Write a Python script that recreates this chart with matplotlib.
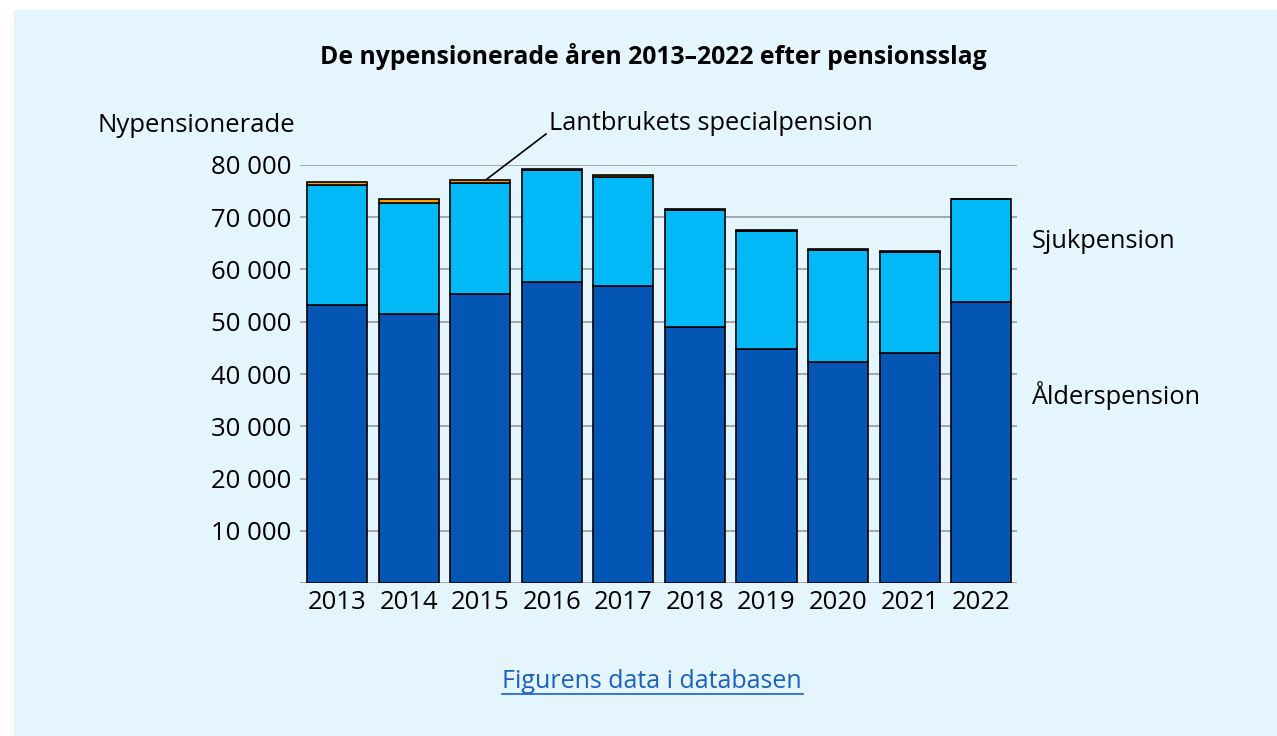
import matplotlib
matplotlib.use("Agg")
import matplotlib.pyplot as plt
from matplotlib.patches import Rectangle
import numpy as np

plt.rcParams['font.family'] = ['Open Sans', 'DejaVu Sans']

years = ["2013", "2014", "2015", "2016", "2017", "2018", "2019", "2020", "2021", "2022"]
alderspension = [53200, 51500, 55300, 57550, 56850, 49000, 44800, 42300, 44000, 53700]
sjukpension = [23000, 21300, 21200, 21500, 20900, 22400, 22600, 21400, 19400, 19850]
lantbruk = [600, 700, 700, 250, 250, 250, 250, 250, 150, 0]
yticks = [10000, 20000, 30000, 40000, 50000, 60000, 70000, 80000]
ytick_labels = ["10 000", "20 000", "30 000", "40 000", "50 000", "60 000", "70 000", "80 000"]

W, H = 1277, 736
fig = plt.figure(figsize=(W / 100, H / 100), dpi=100)
fig.patch.set_facecolor("white")
fig.add_artist(Rectangle((14 / W, 0), 1 - 14 / W, 1 - 10 / H, transform=fig.transFigure,
                         facecolor="#e4f5fd", edgecolor="none", zorder=0))

ax = fig.add_axes([300 / W, 1 - 583 / H, (1017 - 300) / W, (583 - 165) / H])
ax.set_facecolor("none")
x = np.arange(len(years))
c_alder = "#0356b4"
c_sjuk = "#02b9f8"
c_lant = "#f5a300"
bw = 0.84
ax.bar(x, alderspension, width=bw, color=c_alder, edgecolor="black", linewidth=1.2, zorder=3)
ax.bar(x, sjukpension, width=bw, bottom=alderspension, color=c_sjuk, edgecolor="black", linewidth=1.2, zorder=3)
b2 = np.array(alderspension) + np.array(sjukpension)
ax.bar(x, lantbruk, width=bw, bottom=b2, color=c_lant, edgecolor="black", linewidth=1.2, zorder=3, clip_on=False)

ax.set_xlim(-0.52, 9.5)
ax.set_ylim(0, 80000)
ax.set_yticks(yticks)
ax.set_yticklabels(ytick_labels)
ax.set_xticks(x)
ax.set_xticklabels(years)
ax.tick_params(axis="both", length=0, labelsize=18.5, colors="black")
ax.tick_params(axis="y", pad=6)
ax.tick_params(axis="x", pad=5)
for s in ax.spines.values():
    s.set_visible(False)
for yv in [0] + yticks:
    ax.axhline(yv, color="#9a9a9a", linewidth=1.2, zorder=1)

fig.text(653 / W, 1 - 57 / H, "De nypensionerade åren 2013–2022 efter pensionsslag",
         ha="center", va="center", fontsize=17.8, fontweight="bold")
fig.text(97 / W, 1 - 125 / H, "Nypensionerade", ha="left", va="center", fontsize=18.5)
fig.text(549 / W, 1 - 124 / H, "Lantbrukets specialpension", ha="left", va="center", fontsize=18.3)
fig.add_artist(plt.Line2D([546 / W, 487 / W], [1 - 134 / H, 1 - 179 / H], transform=fig.transFigure,
                          color="black", linewidth=1.2))
fig.text(1032 / W, 1 - 241 / H, "Sjukpension", ha="left", va="center", fontsize=18.3)
fig.text(1032 / W, 1 - 396 / H, "Ålderspension", ha="left", va="center", fontsize=18.3)
fig.text(652 / W, 1 - 681 / H, "Figurens data i databasen", ha="center", va="center",
         fontsize=18, color="#1a62c0")
fig.add_artist(plt.Line2D([502 / W, 803 / W], [1 - 694 / H, 1 - 694 / H], transform=fig.transFigure,
                          color="#1a62c0", linewidth=1.2))

fig.savefig("out.png", dpi=100, facecolor=fig.get_facecolor())
